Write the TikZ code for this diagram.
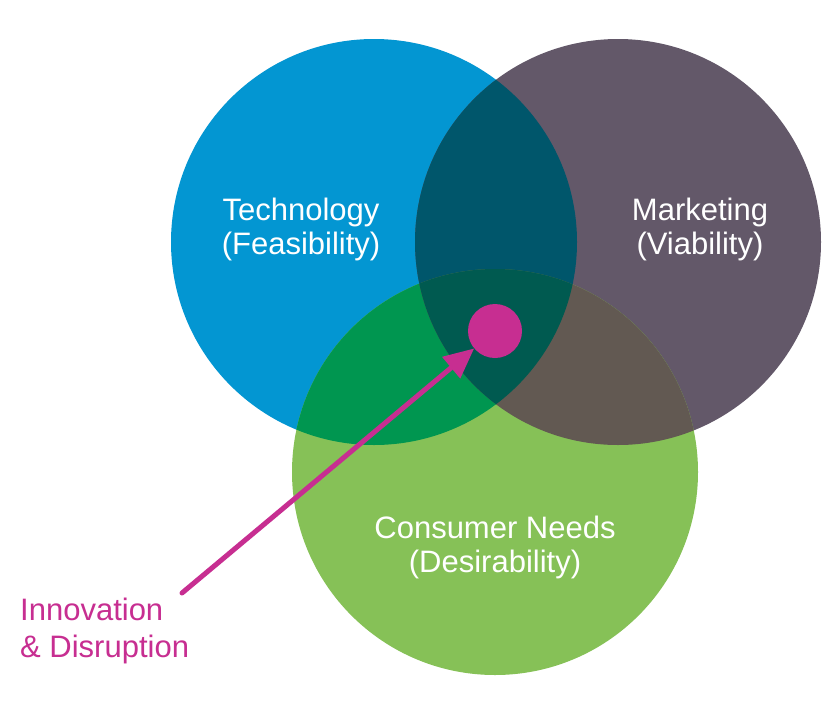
\documentclass[tikz,border=0pt]{standalone}
\usepackage{fontspec}
\setmainfont{Liberation Sans}
\usepackage{tikz}
\usetikzlibrary{arrows.meta,positioning}
\definecolor{techblue}{RGB}{3,150,210}
\definecolor{mktgray}{RGB}{99,88,105}
\definecolor{needgreen}{RGB}{134,193,87}
\definecolor{techmkt}{RGB}{0,86,107}
\definecolor{techneed}{RGB}{0,150,80}
\definecolor{mktneed}{RGB}{98,89,82}
\definecolor{allthree}{RGB}{0,90,80}
\definecolor{innopink}{RGB}{199,46,145}

\begin{document}
\begin{tikzpicture}[
  x=1pt, y=-1pt,
  circ/.style={circle, minimum size=406pt, inner sep=0pt, outer sep=0pt},
  lbl/.style={text=white, align=center, font=\fontsize{31}{34}\selectfont},
  edge/.style={-{Triangle[length=30pt, width=27pt]}, line width=5pt, line cap=round, innopink}
]
  \useasboundingbox[fill=white] (0,0) rectangle (840,707);

  % Circles
  \node[circ, fill=techblue] (tech) at (374,242) {};
  \node[circ, fill=mktgray] (mkt) at (618,242) {};
  \node[circ, fill=needgreen] (need) at (495,472) {};

  % Overlaps
  \begin{scope}
    \clip (tech.center) circle[radius=203pt];
    \fill[techmkt] (mkt.center) circle[radius=203pt];
    \fill[techneed] (need.center) circle[radius=203pt];
  \end{scope}
  \begin{scope}
    \clip (mkt.center) circle[radius=203pt];
    \fill[mktneed] (need.center) circle[radius=203pt];
    \clip (tech.center) circle[radius=203pt];
    \fill[allthree] (need.center) circle[radius=203pt];
  \end{scope}

  % Labels
  \node[lbl] (techlbl) at (301,229) {Technology\\(Feasibility)};
  \node[lbl] (mktlbl) at (700,229) {Marketing\\(Viability)};
  \node[lbl] (needlbl) at (495,547) {Consumer Needs\\(Desirability)};

  % Innovation
  \node[circle, fill=innopink, minimum size=54pt, inner sep=0pt] (core) at (495,331) {};
  \coordinate (innoarrow) at (182,593);
  \draw[edge] (innoarrow) -- (core);
  \node[anchor=west, align=left, text=innopink, inner sep=0pt,
    font=\fontsize{31}{37}\selectfont] (innolbl) at (20,631) {Innovation\\\& Disruption};
\end{tikzpicture}
\end{document}
